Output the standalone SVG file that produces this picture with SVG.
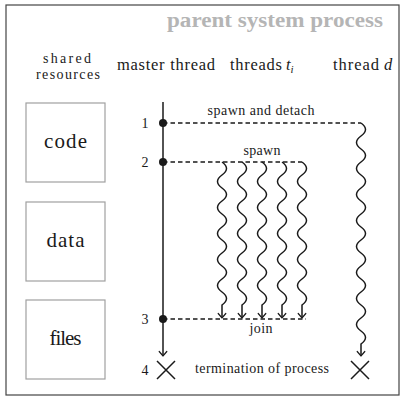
<svg xmlns="http://www.w3.org/2000/svg" width="406" height="405" viewBox="0 0 406 405">
  <style>
    text { font-family: "Liberation Serif", "DejaVu Serif", "Times New Roman", serif; fill: #1a1a1a; }
    .head { font-size: 16.5px; }
    .head2 { font-size: 14px; }
    .small { font-size: 14px; }
    .num { font-size: 14px; }
    .res { font-size: 21px; }
    .title { font-size: 20px; font-weight: bold; fill: #b5b5b5; }
    .box { fill: none; stroke: #a0a0a0; stroke-width: 1.2; }
    .line { fill: none; stroke: #1a1a1a; stroke-width: 1.5; }
    .dash { fill: none; stroke: #1a1a1a; stroke-width: 1.4; stroke-dasharray: 4.5 3; }
    .wave { fill: none; stroke: #1a1a1a; stroke-width: 1.5; }
    .dot { fill: #1a1a1a; }
  </style>
  <defs>
    <marker id="to" viewBox="-6 -5 8 10" markerWidth="8" markerHeight="10" refX="0" refY="0" orient="auto" markerUnits="userSpaceOnUse">
      <path d="M-4.5,-3.8 Q-1,-0.8 0,0 Q-1,0.8 -4.5,3.8" fill="none" stroke="#1a1a1a" stroke-width="1.2" stroke-linecap="round"/>
    </marker>
  </defs>

  <!-- process frame -->
  <rect x="6" y="5" width="393" height="390" fill="#ffffff" stroke="#444" stroke-width="1.2"/>
  <text class="title" x="275" y="27" text-anchor="middle" textLength="216" lengthAdjust="spacingAndGlyphs">parent system process</text>

  <!-- column headers -->
  <text class="head2" x="67" y="63" text-anchor="middle" textLength="48">shared</text>
  <text class="head2" x="68" y="79" text-anchor="middle" textLength="64">resources</text>
  <text class="head" x="166" y="70" text-anchor="middle" textLength="98">master thread</text>
  <text class="head" x="230" y="70"><tspan textLength="52">threads</tspan><tspan x="286" font-style="italic">t</tspan><tspan font-style="italic" font-size="11" dy="3">i</tspan></text>
  <text class="head" x="333" y="70"><tspan textLength="46">thread</tspan><tspan x="384" font-style="italic">d</tspan></text>

  <!-- shared resources -->
  <g id="code">
    <rect class="box" x="26" y="103" width="79" height="79"/>
    <text class="res" x="65.5" y="148" text-anchor="middle" textLength="43">code</text>
  </g>
  <g id="data">
    <rect class="box" x="26" y="202" width="79" height="79"/>
    <text class="res" x="65.5" y="247" text-anchor="middle" textLength="38">data</text>
  </g>
  <g id="files">
    <rect class="box" x="26" y="300" width="79" height="79"/>
    <text class="res" x="65.5" y="345" text-anchor="middle" textLength="32">files</text>
  </g>

  <!-- connectors -->
  <g id="connectors">
    <!-- master thread -->
    <path class="line" d="M163,102 V356" marker-end="url(#to)"/>
    <!-- spawn and detach -->
    <path class="dash" d="M163,123 H361"/>
    <!-- spawn -->
    <path class="dash" d="M163,162 H302"/>
    <!-- join -->
    <path class="dash" d="M163,319 H306"/>
    <!-- detached thread d -->
    <path class="wave" d="M361,123 q9,6.5 0,13 t0,13 t0,13 t0,13 t0,13 t0,13 t0,13 t0,13 t0,13 t0,13 t0,13 t0,13 t0,13 t0,13 t0,13 t0,13 t0,13 L361,356" marker-end="url(#to)"/>
    <!-- worker threads t_i -->
    <g id="threads">
      <path class="wave" d="M222,162 q9,6.5 0,13 t0,13 t0,13 t0,13 t0,13 t0,13 t0,13 t0,13 t0,13 t0,13 t0,13 L222,318" marker-end="url(#to)"/>
      <path class="wave" d="M242,162 q9,6.5 0,13 t0,13 t0,13 t0,13 t0,13 t0,13 t0,13 t0,13 t0,13 t0,13 t0,13 L242,318" marker-end="url(#to)"/>
      <path class="wave" d="M262,162 q9,6.5 0,13 t0,13 t0,13 t0,13 t0,13 t0,13 t0,13 t0,13 t0,13 t0,13 t0,13 L262,318" marker-end="url(#to)"/>
      <path class="wave" d="M282,162 q9,6.5 0,13 t0,13 t0,13 t0,13 t0,13 t0,13 t0,13 t0,13 t0,13 t0,13 t0,13 L282,318" marker-end="url(#to)"/>
      <path class="wave" d="M302,162 q9,6.5 0,13 t0,13 t0,13 t0,13 t0,13 t0,13 t0,13 t0,13 t0,13 t0,13 t0,13 L302,318" marker-end="url(#to)"/>
    </g>
    <text class="small" x="261" y="115" text-anchor="middle" textLength="107">spawn and detach</text>
    <text class="small" x="262" y="155" text-anchor="middle" textLength="37">spawn</text>
    <text class="small" x="261" y="333" text-anchor="middle" textLength="23">join</text>
    <text class="small" x="262" y="373" text-anchor="middle" textLength="134">termination of process</text>
  </g>

  <!-- events on the master thread -->
  <g id="event1">
    <circle class="dot" cx="163" cy="123" r="4"/>
    <text class="num" x="145" y="128" text-anchor="middle">1</text>
  </g>
  <g id="event2">
    <circle class="dot" cx="163" cy="162" r="4"/>
    <text class="num" x="145" y="167" text-anchor="middle">2</text>
  </g>
  <g id="event3">
    <circle class="dot" cx="163" cy="319" r="4"/>
    <text class="num" x="145" y="324" text-anchor="middle">3</text>
  </g>
  <g id="event4">
    <path class="line" d="M157,361 L175,379 M175,361 L157,379"/>
    <text class="num" x="145" y="375" text-anchor="middle">4</text>
  </g>
  <g id="end-d">
    <path class="line" d="M351,361 L369,379 M369,361 L351,379"/>
  </g>
</svg>
